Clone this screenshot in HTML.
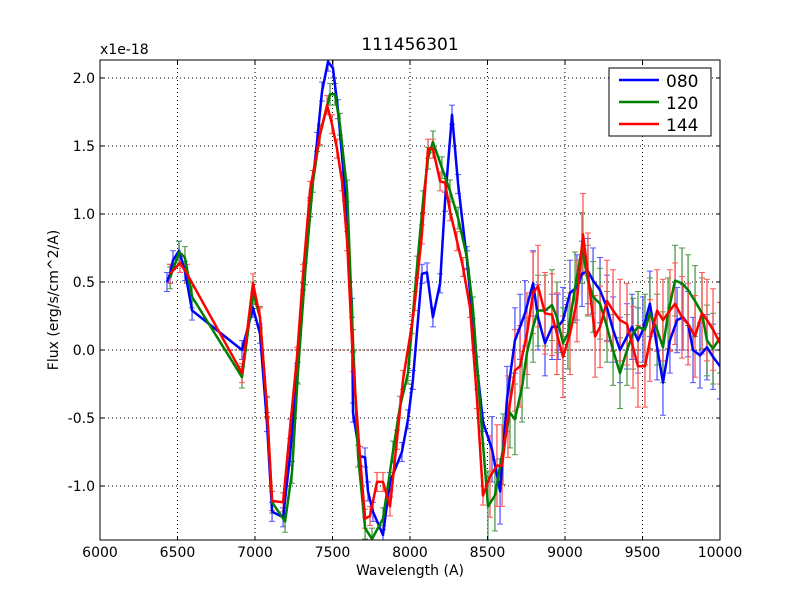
<!DOCTYPE html>
<html><head><meta charset="utf-8"><style>
body{margin:0;background:#fff}
svg text{font-family:"DejaVu Sans","Liberation Sans",sans-serif;fill:#000}
</style></head><body>
<svg id="chart" width="800" height="600" viewBox="0 0 800 600">
<rect width="800" height="600" fill="#fff"/>
<g id="grid"></g>
<g id="series"></g>
<rect x="100" y="60" width="620" height="480" fill="none" stroke="#000" stroke-width="1"/>
<g id="ticks"></g>
<text x="410" y="50" font-size="17" text-anchor="middle">111456301</text>
<text x="100" y="54" font-size="14">x1e-18</text>
<text x="410" y="575" font-size="14" text-anchor="middle">Wavelength (A)</text>
<text transform="translate(58,300) rotate(-90)" font-size="14" text-anchor="middle">Flux (erg/s/cm^2/A)</text>
<g>
<rect x="609" y="68" width="102" height="68" fill="#fff" stroke="#000"/>
<line x1="619" y1="80" x2="659" y2="80" stroke="#0000ff" stroke-width="2.5"/>
<text x="666" y="87" font-size="17">080</text>
<line x1="619" y1="102" x2="659" y2="102" stroke="#008000" stroke-width="2.5"/>
<text x="666" y="109" font-size="17">120</text>
<line x1="619" y1="124" x2="659" y2="124" stroke="#ff0000" stroke-width="2.5"/>
<text x="666" y="131" font-size="17">144</text>
</g>
</svg>
<script>
const xTicks=[6000,6500,7000,7500,8000,8500,9000,9500,10000];
const yTicks=[-1.0,-0.5,0.0,0.5,1.0,1.5,2.0];
const yTickLabels=["-1.0","-0.5","0.0","0.5","1.0","1.5","2.0"];
const blueW=[6432,6452,6471,6510,6548,6594,6916,6987,7032,7077,7110,7181,7226,7271,7310,7355,7400,7432,7471,7503,7535,7581,7626,7632,7677,7710,7729,7761,7826,7871,7948,7987,8019,8077,8110,8148,8194,8226,8271,8310,8368,8432,8471,8529,8581,8626,8677,8710,8742,8794,8826,8871,8916,8955,8987,9032,9077,9110,9148,9181,9226,9271,9310,9355,9400,9432,9471,9503,9548,9594,9632,9677,9723,9761,9794,9826,9871,9916,9955,10000];
const blueV=[0.5,0.56,0.66,0.73,0.58,0.29,0.0,0.31,0.12,-0.53,-1.19,-1.23,-0.78,-0.17,0.51,1.05,1.53,1.9,2.12,2.07,1.77,1.17,0.31,-0.46,-0.78,-0.79,-1.04,-1.19,-1.36,-0.97,-0.75,-0.51,-0.22,0.56,0.57,0.24,0.49,1.09,1.73,1.22,0.66,-0.12,-0.53,-0.73,-1.04,-0.36,0.07,0.17,0.27,0.49,0.24,0.05,0.17,0.17,0.22,0.42,0.46,0.56,0.58,0.51,0.44,0.31,0.15,0,0.1,0.17,0.07,0.15,0.34,0.02,-0.24,0.07,0.22,0.24,0.19,0,-0.04,0.02,-0.05,-0.12];
const greenW=[6452,6510,6548,6594,6916,6987,7032,7077,7110,7194,7239,7277,7323,7374,7419,7484,7516,7548,7594,7632,7665,7710,7755,7826,7890,7935,7987,8045,8084,8116,8148,8206,8258,8310,8368,8406,8465,8503,8548,8600,8645,8677,8723,8755,8794,8826,8871,8916,8948,8987,9019,9065,9110,9148,9181,9226,9271,9310,9355,9400,9439,9471,9516,9548,9594,9632,9665,9710,9755,9794,9839,9884,9916,9955,10000];
const greenV=[0.53,0.72,0.68,0.39,-0.2,0.42,0.24,-0.42,-1.12,-1.26,-0.9,-0.17,0.56,1.24,1.58,1.88,1.88,1.66,1.17,0.07,-0.78,-1.31,-1.39,-1.24,-0.75,-0.42,-0.17,0.61,1.09,1.41,1.53,1.34,1.17,0.97,0.68,0.31,-0.61,-1.15,-1.07,-0.73,-0.46,-0.51,-0.27,-0.02,0.17,0.29,0.29,0.33,0.24,0.05,0.12,0.46,0.75,0.51,0.39,0.34,0.17,0,-0.17,0,0.12,0.17,0.15,0.27,0.15,0.02,0.27,0.51,0.49,0.44,0.36,0.27,0.07,0.01,0.09];
const redW=[6452,6516,6561,6916,6987,7032,7077,7110,7181,7226,7271,7310,7355,7419,7465,7497,7529,7561,7594,7632,7677,7710,7742,7787,7826,7871,7916,7955,8013,8032,8077,8116,8148,8194,8226,8258,8303,8342,8387,8432,8471,8516,8561,8594,8632,8677,8710,8755,8794,8826,8871,8916,8948,8987,9032,9077,9116,9148,9194,9226,9271,9310,9355,9400,9439,9471,9516,9548,9594,9632,9677,9710,9755,9794,9839,9884,9916,9955,10000];
const redV=[0.56,0.64,0.56,-0.17,0.49,0.24,-0.42,-1.11,-1.12,-0.58,-0.05,0.56,1.17,1.58,1.8,1.66,1.48,1.24,0.8,-0.09,-0.78,-1.24,-1.22,-0.97,-0.97,-1.15,-0.66,-0.22,0.19,0.36,0.85,1.48,1.48,1.24,1.23,1.02,0.8,0.61,0.31,-0.36,-1.07,-0.93,-0.85,-0.85,-0.49,-0.15,-0.12,0.12,0.42,0.47,0.27,0.26,0.12,-0.05,0.12,0.36,0.85,0.56,0.1,0.17,0.36,0.29,0.22,0.19,0.02,-0.12,-0.12,0.07,0.29,0.22,0.29,0.34,0.24,0.19,0.1,0.27,0.22,0.15,0.05];
const errLow=[0.07,0.08,0.07];
const errHigh=[0.24,0.26,0.3];

const X0=100,X1=720,Y0=540,Y1=60,XMIN=6000,XMAX=10000,YMIN=-1.397,YMAX=2.132;
function sx(w){return X0+(w-XMIN)/(XMAX-XMIN)*(X1-X0);}
function sy(v){return Y0-(v-YMIN)/(YMAX-YMIN)*(Y0-Y1);}
const NS="http://www.w3.org/2000/svg";
function mk(tag,attrs,parent){const e=document.createElementNS(NS,tag);for(const k in attrs)e.setAttribute(k,attrs[k]);parent.appendChild(e);return e;}
const grid=document.getElementById('grid'),ticks=document.getElementById('ticks'),ser=document.getElementById('series');
const defs=mk('defs',{},document.getElementById('chart'));
const cp=mk('clipPath',{id:'clip'},defs);mk('rect',{x:X0,y:Y1,width:X1-X0,height:Y0-Y1},cp);
ser.setAttribute('clip-path','url(#clip)');
xTicks.forEach((t,i)=>{
  const x=sx(t);
  if(i>0&&i<xTicks.length-1){const g=mk('line',{x1:x,x2:x,y1:Y1,y2:Y0,stroke:'#000','stroke-dasharray':'1,3','stroke-width':1},grid);
  
  }
  mk('line',{x1:x,x2:x,y1:Y0,y2:Y0-4,stroke:'#000'},ticks);
  mk('line',{x1:x,x2:x,y1:Y1,y2:Y1+4,stroke:'#000'},ticks);
  const tx=mk('text',{x:x,y:Y0+17,'font-size':14,'text-anchor':'middle'},ticks);tx.textContent=t;
  
  
});
yTicks.forEach((t,i)=>{
  const y=sy(t);
  const g=mk('line',{x1:X0,x2:X1,y1:y,y2:y,stroke:'#000','stroke-dasharray':'1,3','stroke-width':1},grid);
  
  
  mk('line',{x1:X0,x2:X0+4,y1:y,y2:y,stroke:'#000'},ticks);
  mk('line',{x1:X1,x2:X1-4,y1:y,y2:y,stroke:'#000'},ticks);
  const tx=mk('text',{x:X0-5,y:y+5,'font-size':14,'text-anchor':'end'},ticks);tx.textContent=yTickLabels[i];
  
  
});
const zl=mk('line',{x1:sx(6430),x2:X1,y1:sy(0),y2:sy(0),stroke:'#a00000','stroke-dasharray':'1,3','stroke-width':1.5},ser);


const seriesList=[['080',blueW,blueV,'#0000ff','#5555ff',0],['120',greenW,greenV,'#008000','#4a9a4a',1],['144',redW,redV,'#ff0000','#ff5555',2]];
seriesList.forEach(s=>{
  const [name,W,V,col,ecol,k]=s;
  const eg=mk('g',{},ser);
  
  
  W.forEach((w,i)=>{
    const e=w<8500?errLow[k]:errHigh[k];const x=sx(w);
    mk('line',{x1:x,x2:x,y1:sy(V[i]-e),y2:sy(V[i]+e),stroke:ecol,'stroke-width':1.3},eg);
    mk('line',{x1:x-3,x2:x+3,y1:sy(V[i]-e),y2:sy(V[i]-e),stroke:ecol,'stroke-width':1},eg);
    mk('line',{x1:x-3,x2:x+3,y1:sy(V[i]+e),y2:sy(V[i]+e),stroke:ecol,'stroke-width':1},eg);
  });
});
seriesList.forEach(s=>{
  const [name,W,V,col]=s;
  const p=mk('polyline',{points:W.map((w,i)=>sx(w).toFixed(1)+','+sy(V[i]).toFixed(1)).join(' '),fill:'none',stroke:col,'stroke-width':2.5,'stroke-linejoin':'round'},ser);
  
  
});
</script>
</body></html>
